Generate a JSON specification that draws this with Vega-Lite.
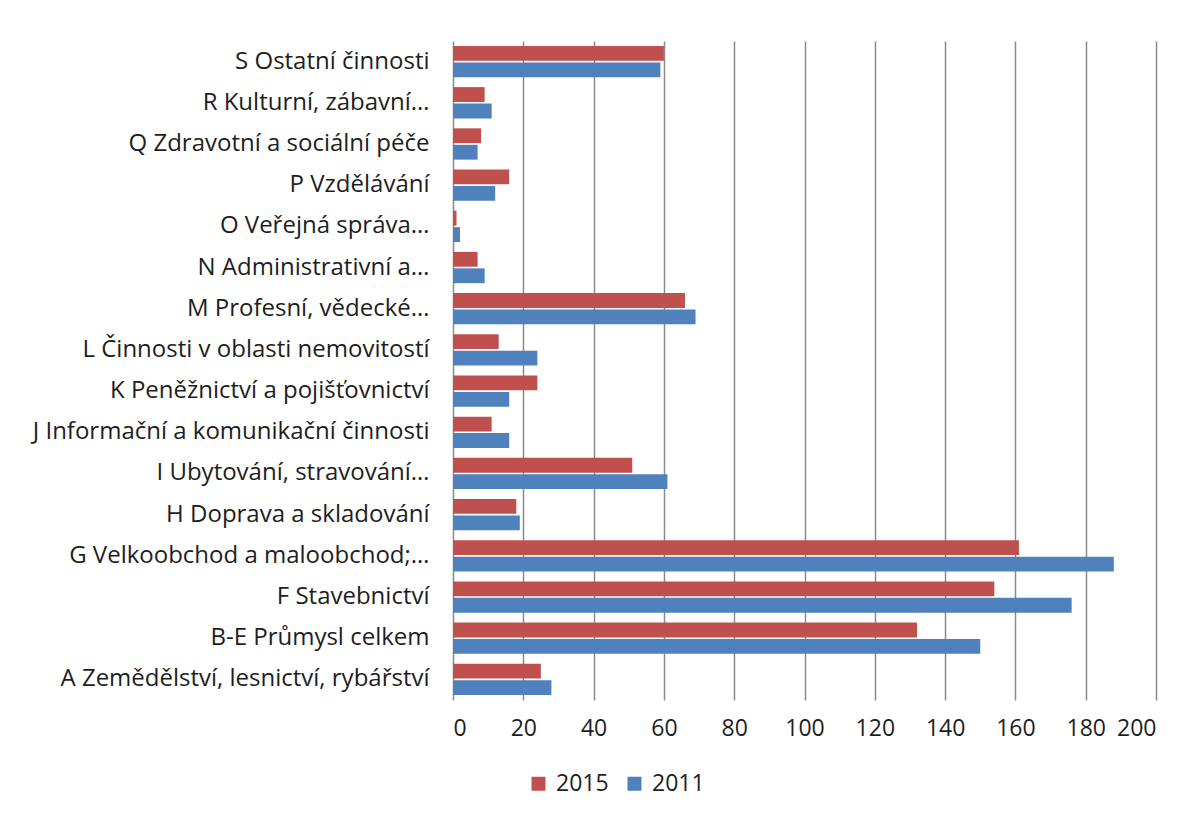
{
  "$schema": "https://vega.github.io/schema/vega-lite/v6.json",
  "autosize": {"type": "none"},
  "padding": {"left": 453, "top": 41, "right": 36, "bottom": 121},
  "width": 703,
  "height": 659,
  "background": "white",
  "data": {
    "values": [
      {"cat": "S Ostatní činnosti", "year": "2015", "value": 60},
      {"cat": "S Ostatní činnosti", "year": "2011", "value": 59},
      {"cat": "R Kulturní, zábavní…", "year": "2015", "value": 9},
      {"cat": "R Kulturní, zábavní…", "year": "2011", "value": 11},
      {"cat": "Q Zdravotní a sociální péče", "year": "2015", "value": 8},
      {"cat": "Q Zdravotní a sociální péče", "year": "2011", "value": 7},
      {"cat": "P Vzdělávání", "year": "2015", "value": 16},
      {"cat": "P Vzdělávání", "year": "2011", "value": 12},
      {"cat": "O Veřejná správa…", "year": "2015", "value": 1},
      {"cat": "O Veřejná správa…", "year": "2011", "value": 2},
      {"cat": "N Administrativní a…", "year": "2015", "value": 7},
      {"cat": "N Administrativní a…", "year": "2011", "value": 9},
      {"cat": "M Profesní, vědecké…", "year": "2015", "value": 66},
      {"cat": "M Profesní, vědecké…", "year": "2011", "value": 69},
      {"cat": "L Činnosti v oblasti nemovitostí", "year": "2015", "value": 13},
      {"cat": "L Činnosti v oblasti nemovitostí", "year": "2011", "value": 24},
      {"cat": "K Peněžnictví a pojišťovnictví", "year": "2015", "value": 24},
      {"cat": "K Peněžnictví a pojišťovnictví", "year": "2011", "value": 16},
      {"cat": "J Informační a komunikační činnosti", "year": "2015", "value": 11},
      {"cat": "J Informační a komunikační činnosti", "year": "2011", "value": 16},
      {"cat": "I Ubytování, stravování…", "year": "2015", "value": 51},
      {"cat": "I Ubytování, stravování…", "year": "2011", "value": 61},
      {"cat": "H Doprava a skladování", "year": "2015", "value": 18},
      {"cat": "H Doprava a skladování", "year": "2011", "value": 19},
      {"cat": "G Velkoobchod a maloobchod;…", "year": "2015", "value": 161},
      {"cat": "G Velkoobchod a maloobchod;…", "year": "2011", "value": 188},
      {"cat": "F Stavebnictví", "year": "2015", "value": 154},
      {"cat": "F Stavebnictví", "year": "2011", "value": 176},
      {"cat": "B-E Průmysl celkem", "year": "2015", "value": 132},
      {"cat": "B-E Průmysl celkem", "year": "2011", "value": 150},
      {"cat": "A Zemědělství, lesnictví, rybářství", "year": "2015", "value": 25},
      {"cat": "A Zemědělství, lesnictví, rybářství", "year": "2011", "value": 28}
    ]
  },
  "mark": {"type": "bar"},
  "encoding": {
    "y": {
      "field": "cat",
      "type": "nominal",
      "sort": null,
      "title": null,
      "scale": {"paddingInner": 0.24, "paddingOuter": 0.12},
      "axis": {
        "domain": false,
        "ticks": false,
        "labelPadding": 24,
        "labelLimit": 500,
        "labelFont": "Open Sans",
        "labelFontSize": 24,
        "labelColor": "#1e1e1e"
      }
    },
    "yOffset": {
      "field": "year",
      "type": "nominal",
      "sort": ["2015", "2011"],
      "scale": {"paddingInner": 0.1}
    },
    "x": {
      "field": "value",
      "type": "quantitative",
      "title": null,
      "scale": {"domain": [0, 200], "nice": false},
      "axis": {
        "values": [0, 20, 40, 60, 80, 100, 120, 140, 160, 180, 200],
        "domain": false,
        "ticks": false,
        "grid": true,
        "gridColor": "#8a8a8a",
        "gridWidth": 1.5,
        "labelPadding": 17,
        "labelFont": "Open Sans",
        "labelFontSize": 23,
        "labelColor": "#1e1e1e"
      }
    },
    "color": {
      "field": "year",
      "type": "nominal",
      "sort": ["2015", "2011"],
      "scale": {"domain": ["2015", "2011"], "range": ["#C0504D", "#4F81BD"]},
      "legend": {
        "orient": "none",
        "legendX": 74,
        "legendY": 731,
        "direction": "horizontal",
        "title": null,
        "padding": 0,
        "symbolType": "square",
        "symbolSize": 196,
        "symbolStrokeWidth": 0,
        "labelOffset": 6,
        "labelFont": "Open Sans",
        "labelFontSize": 23,
        "labelColor": "#1e1e1e",
        "columnPadding": 14
      }
    }
  },
  "config": {"view": {"stroke": null}}
}
